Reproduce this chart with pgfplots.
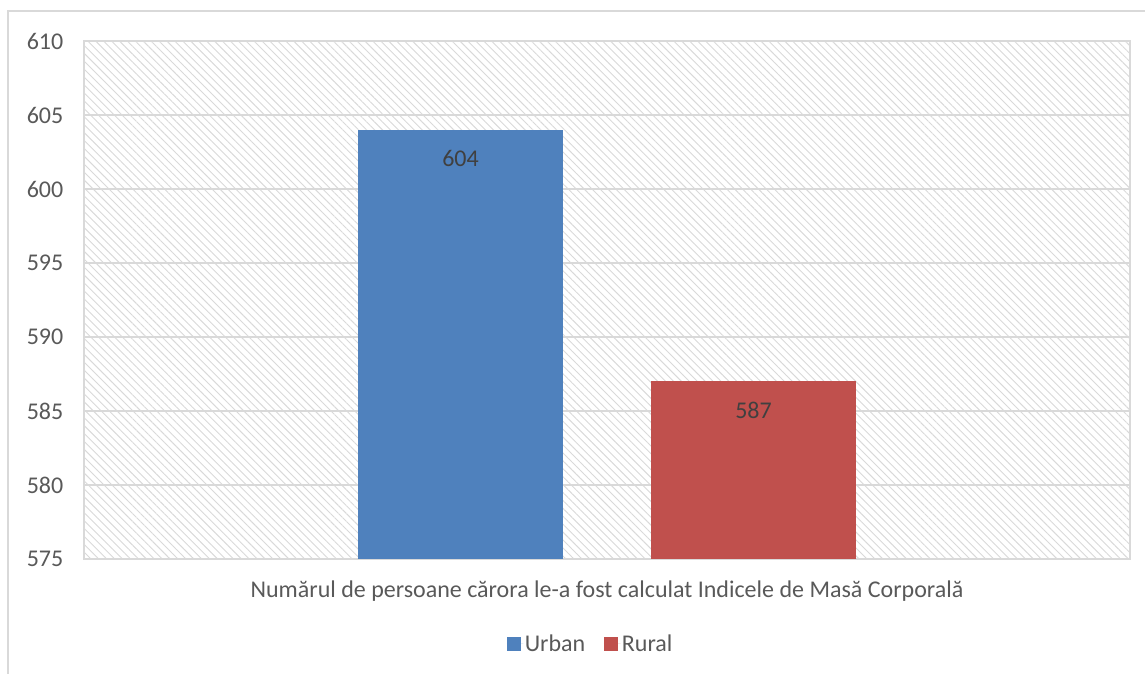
\documentclass[border=0pt]{standalone}
\usepackage{fontspec}
\setmainfont{Carlito}
\usepackage{pgfplots}
\pgfplotsset{compat=1.18}
\usetikzlibrary{patterns.meta}

\definecolor{urban}{HTML}{4F81BD}
\definecolor{rural}{HTML}{C0504D}
\definecolor{txt}{HTML}{595959}
\definecolor{lbl}{HTML}{404040}
\definecolor{grd}{HTML}{D9D9D9}

\begin{document}
\begin{tikzpicture}[x=1pt,y=1pt]
% frame around the chart (1px = 0.75pt, origin at bottom-left of plot area)
\path[use as bounding box] (-63,-86.25) rectangle (795.75,419.25);
\draw[grd, line width=1pt] (-57,-86.25) -- (-57,411) -- (795.75,411);

\begin{axis}[
    at={(0,0)}, anchor=south west,
    scale only axis,
    width=784.5pt, height=388.5pt,
    ymin=575, ymax=610,
    ytick={575,580,...,610},
    xmin=-1.285, xmax=2.285,
    xtick=\empty,
    ybar, bar width=0.703, bar shift=0pt,
    axis line style={grd, line width=1pt},
    ymajorgrids=true,
    grid style={grd, line width=1pt},
    major tick length=0pt,
    axis background/.style={pattern={Lines[angle=-45, distance=4.2pt, line width=0.7pt]}, pattern color=grd},
    tick label style={font=\fontsize{18}{20}\selectfont, text=txt},
    /pgf/number format/assume math mode=true,
    yticklabel style={xshift=-12pt},
    xlabel={Numărul de persoane cărora le-a fost calculat Indicele de Masă Corporală},
    xlabel style={at={(axis description cs:0.5,0)}, anchor=center, yshift=-24pt,
        font=\fontsize{18}{20}\selectfont, text=txt},
    nodes near coords,
    nodes near coords style={anchor=center, yshift=-21.5pt, font=\fontsize{18}{20}\selectfont, text=lbl},
    legend style={at={(0.484,-0.164)}, anchor=center, draw=none, fill=none,
        legend columns=2, font=\fontsize{18}{20}\selectfont, text=txt,
        nodes={inner sep=1pt},
        /tikz/every even column/.append style={column sep=13pt}},
    legend image code/.code={\fill[#1] (0pt,-5.25pt) rectangle (10.5pt,5.25pt);
        \path (0pt,0pt) -- (12.5pt,0pt);},
]
\addplot[fill=urban, draw=none] coordinates {(0,604)};
\addplot[fill=rural, draw=none] coordinates {(1,587)};
\legend{Urban, Rural}
\end{axis}
\end{tikzpicture}
\end{document}
